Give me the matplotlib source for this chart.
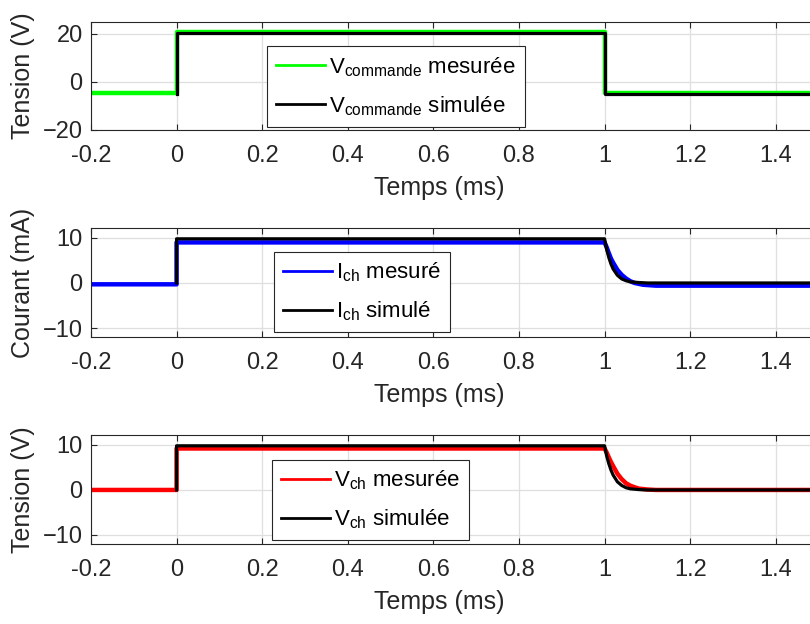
import matplotlib
matplotlib.use("Agg")
from matplotlib import pyplot as plt

plt.rcParams["font.family"] = ["Liberation Sans", "DejaVu Sans"]
plt.rcParams["mathtext.fontset"] = "custom"
plt.rcParams["mathtext.rm"] = "Liberation Sans"
plt.rcParams["mathtext.it"] = "Liberation Sans"

# x axis
x_ticks = [-0.2, 0, 0.2, 0.4, 0.6, 0.8, 1, 1.2, 1.4]
x_labels = ["-0.2", "0", "0.2", "0.4", "0.6", "0.8", "1", "1.2", "1.4"]

# V commande (V)
vcmd_mes_t = [-0.2, 0.0, 0.0, 1.0, 1.0, 1.5]
vcmd_mes = [-4.6, -4.6, 21.0, 21.0, -4.6, -4.6]
vcmd_sim_t = [0.0, 0.0, 1.0, 1.0, 1.5]
vcmd_sim = [-5.2, 20.2, 20.2, -5.2, -5.2]

# I ch (mA)
ich_mes_t = [-0.2, 0.0, 0.0, 1.0, 1.005, 1.01, 1.015, 1.02, 1.03, 1.04,
             1.05, 1.06, 1.07, 1.09, 1.12, 1.5]
ich_mes = [-0.3, -0.3, 9.0, 9.0, 7.9, 6.6, 5.4, 4.5, 2.9, 1.8,
           1.0, 0.4, 0.0, -0.4, -0.6, -0.6]
ich_sim_t = [0.0, 0.0, 1.0, 1.005, 1.01, 1.015, 1.02, 1.03, 1.04,
             1.05, 1.06, 1.08, 1.1, 1.5]
ich_sim = [0.0, 9.8, 9.8, 7.4, 5.6, 4.2, 3.1, 1.7, 0.9,
           0.5, 0.25, 0.1, 0.0, 0.0]

# V ch (V)
vch_mes_t = [-0.2, 0.0, 0.0, 1.0, 1.005, 1.01, 1.015, 1.02, 1.03, 1.04,
             1.05, 1.06, 1.07, 1.08, 1.1, 1.12, 1.5]
vch_mes = [0.0, 0.0, 9.2, 9.2, 8.3, 7.2, 6.2, 5.3, 3.6, 2.4,
           1.5, 0.95, 0.6, 0.3, 0.1, 0.0, 0.0]
vch_sim_t = [0.0, 0.0, 1.0, 1.005, 1.01, 1.015, 1.02, 1.03, 1.04,
             1.05, 1.06, 1.08, 1.1, 1.5]
vch_sim = [0.0, 9.8, 9.8, 7.5, 5.8, 4.4, 3.3, 1.8, 1.0,
           0.5, 0.25, 0.08, 0.0, 0.0]

DARK = "#262626"
GRID = "#dfdfdf"

fig = plt.figure(figsize=(8.1, 6.24), dpi=100)

panels = [
    dict(pos=[0.1123, 0.7917, 0.8983, 0.1731], ylim=(-20, 25), yticks=[-20, 0, 20],
         ylabel="Tension (V)", mes=(vcmd_mes_t, vcmd_mes), sim=(vcmd_sim_t, vcmd_sim),
         color="#00ff00",
         labels=[r"V$_{\mathrm{commande}}$ mesurée", r"V$_{\mathrm{commande}}$ simulée"],
         anchor=(0.242, 0.03)),
    dict(pos=[0.1123, 0.4599, 0.8983, 0.1747], ylim=(-12, 12.2), yticks=[-10, 0, 10],
         ylabel="Courant (mA)", mes=(ich_mes_t, ich_mes), sim=(ich_sim_t, ich_sim),
         color="#0000ff",
         labels=[r"I$_{\mathrm{ch}}$ mesuré", r"I$_{\mathrm{ch}}$ simulé"],
         anchor=(0.2515, 0.045)),
    dict(pos=[0.1123, 0.1282, 0.8983, 0.1747], ylim=(-12, 12.2), yticks=[-10, 0, 10],
         ylabel="Tension (V)", mes=(vch_mes_t, vch_mes), sim=(vch_sim_t, vch_sim),
         color="#ff0000",
         labels=[r"V$_{\mathrm{ch}}$ mesurée", r"V$_{\mathrm{ch}}$ simulée"],
         anchor=(0.249, 0.035)),
]

for p in panels:
    ax = fig.add_axes(p["pos"])
    l1, = ax.plot(p["mes"][0], p["mes"][1], color=p["color"], linewidth=3.2,
                  zorder=2, label=p["labels"][0])
    l2, = ax.plot(p["sim"][0], p["sim"][1], color="black", linewidth=2.3,
                  zorder=3, label=p["labels"][1])
    ax.set_xlim(-0.2, 1.5)
    ax.set_ylim(*p["ylim"])
    ax.set_xticks(x_ticks)
    ax.set_xticklabels(x_labels)
    ax.set_yticks(p["yticks"])
    ax.grid(True, color=GRID, linewidth=0.9)
    ax.set_axisbelow(True)
    ax.tick_params(direction="in", top=True, length=4, width=0.8,
                   colors=DARK, labelsize=17)
    ax.tick_params(axis="x", pad=11)
    ax.tick_params(axis="y", pad=6)
    for s in ax.spines.values():
        s.set_color(DARK)
        s.set_linewidth(0.8)
    ax.set_xlabel("Temps (ms)", fontsize=18, color=DARK, labelpad=6)
    ax.xaxis.label.set_x(0.478)
    ax.set_ylabel(p["ylabel"], fontsize=18, color=DARK)
    ax.yaxis.set_label_coords(-0.077, 0.5)
    leg = ax.legend(handles=[l1, l2], loc="lower left", bbox_to_anchor=p["anchor"],
                    fontsize=16, fancybox=False, framealpha=1, edgecolor=DARK,
                    handlelength=2.2, handletextpad=0.2, labelspacing=0.7,
                    borderpad=0.4, borderaxespad=0)
    leg.get_frame().set_linewidth(0.8)
    for h in leg.get_lines():
        h.set_linewidth(2)

fig.savefig("out.png", dpi=100)
